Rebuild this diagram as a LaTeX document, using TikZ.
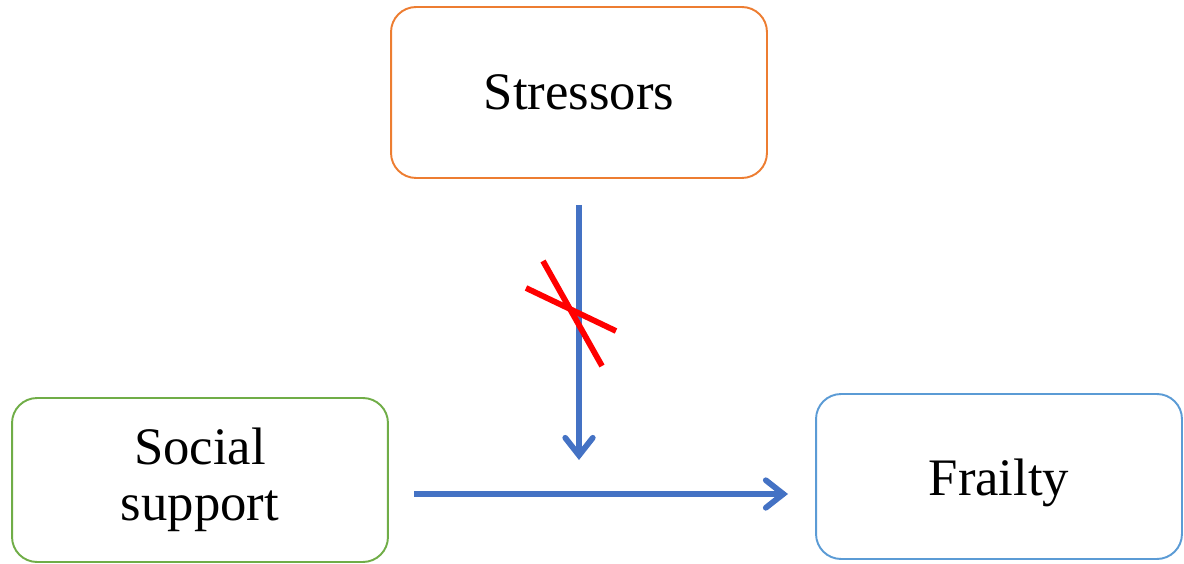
\documentclass[tikz,border=0pt]{standalone}
\usepackage{fontspec}
\setmainfont{Liberation Serif}
\usetikzlibrary{arrows.meta}
\definecolor{boxorange}{HTML}{ED7D31}
\definecolor{boxgreen}{HTML}{70AD47}
\definecolor{boxblue}{HTML}{5B9BD5}
\definecolor{linkblue}{HTML}{4472C4}
\tikzset{factorbox/.style={draw, line width=1.1pt, rounded corners=0.5cm, inner sep=0pt,
        align=center, font=\fontsize{30}{32}\selectfont},
    link/.style={linkblue, line width=3.3pt, -{Straight Barb[length=0.35cm,width=0.55cm,line cap=round]}},
    cutline/.style={red, line width=3.3pt}
}

\begin{document}
\begin{tikzpicture}[x=0.02cm,y=-0.02cm]
		\useasboundingbox (0,0) rectangle (1184,564);
		\node[factorbox, boxorange, text=black, minimum width=7.52cm, minimum height=3.42cm] (stressors) at (579,92.5) {Stressors};
		\node[factorbox, boxgreen, text=black, minimum width=7.52cm, minimum height=3.28cm] (support) at (200,480) {Social\\support};
		\node[factorbox, boxblue, text=black, text height=1.0cm, text depth=0.23cm, minimum width=7.32cm, minimum height=3.30cm] (frailty) at (999,476.5) {Frailty};
		\coordinate (stresstop) at (579,205);
		\coordinate (stressend) at (579,460);
		\coordinate (supportout) at (414,494);
		\coordinate (frailtyin) at (788,494);
		\draw[link] (supportout) -- (frailtyin);
		\draw[link] (stresstop) -- (stressend);
		% crossed out moderation
		\draw[cutline] (526,288) -- (616,331);
		\draw[cutline] (543,261) -- (602,366);
\end{tikzpicture}
\end{document}
